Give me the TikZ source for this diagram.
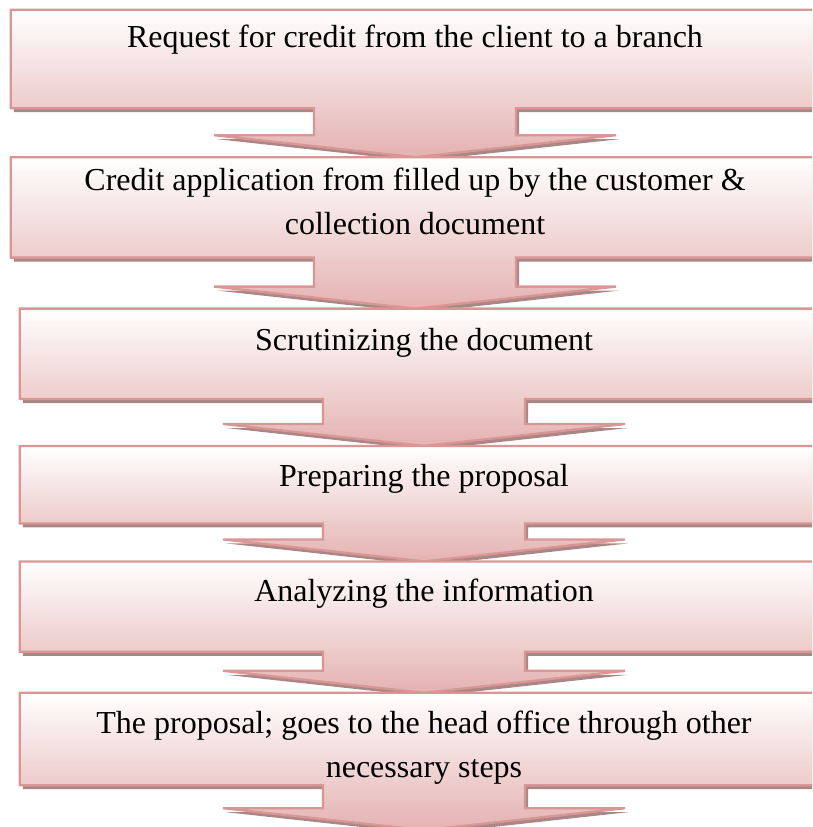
\documentclass[tikz,border=0pt]{standalone}
\usepackage{fontspec}
\setmainfont{Liberation Serif}
\usepackage{tikz}
\usetikzlibrary{positioning, calc, shadows}

\definecolor{calloutline}{RGB}{217,150,148}
\definecolor{callouttop}{RGB}{255,255,255}
\definecolor{calloutbot}{RGB}{228,178,177}
\definecolor{calloutshade}{RGB}{170,135,135}

\tikzset{
    stepbox/.style = {rectangle, minimum width = 808pt, inner sep = 0pt},
    steptext/.style = {font = \fontsize{32pt}{44pt}\selectfont, align = center,
                       anchor = base, inner sep = 0pt},
    callout/.style = {draw = calloutline, line width = 2.3pt, line join = miter,
                      top color = callouttop, bottom color = calloutbot,
                      drop shadow = {shadow xshift = 3pt, shadow yshift = -4pt,
                                     fill = calloutshade, opacity = 1}}
}

\begin{document}
\begin{tikzpicture}[x = 1pt, y = 1pt]
    \useasboundingbox (0,0) rectangle (812,-827);
    \clip (0,0) rectangle (812,-827);

    % the six boxes
    \node[stepbox, minimum height = 98pt]  (b1) at (415,-59)                {};
    \node[stepbox, minimum height = 100pt] (b2) [below = 49pt of b1]        {};
    \node[stepbox, minimum height = 90pt]  (b3) [below = 51pt of b2, xshift = 9pt] {};
    \node[stepbox, minimum height = 77pt]  (b4) [below = 47pt of b3]        {};
    \node[stepbox, minimum height = 90pt]  (b5) [below = 38pt of b4]        {};
    \node[stepbox, minimum height = 92pt]  (b6) [below = 41pt of b5]        {};
    \coordinate[below = 45pt of b6] (tip6);

    % box with its arrow down to the next one
    \foreach \b/\t in {b1/b2.north, b2/b3.north, b3/b4.north,
                       b4/b5.north, b5/b6.north, b6/tip6}
        \path[callout] (\b.north west) -- (\b.north east) -- (\b.south east)
            -- ($(\b.south)+(101,0)$) -- ($(\t -| \b.south)+(101,22)$)
            -- ($(\t -| \b.south)+(201,22)$) -- (\t -| \b.south)
            -- ($(\t -| \b.south)+(-201,22)$) -- ($(\t -| \b.south)+(-101,22)$)
            -- ($(\b.south)+(-101,0)$) -- (\b.south west) -- cycle;

    % base of a two-line text is its last line
    \node[steptext] (t1) at ($(b1.north)+(0,-38)$) {Request for credit from the client to a branch};
    \node[steptext] (t2) at ($(b2.north)+(0,-77)$) {Credit application from filled up by the customer \&\\ collection document};
    \node[steptext] (t3) at ($(b3.north)+(0,-42)$) {Scrutinizing the document};
    \node[steptext] (t4) at ($(b4.north)+(0,-40)$) {Preparing the proposal};
    \node[steptext] (t5) at ($(b5.north)+(0,-40)$) {Analyzing the information};
    \node[steptext] (t6) at ($(b6.north)+(0,-85)$) {The proposal; goes to the head office through other\\ necessary steps};
\end{tikzpicture}
\end{document}
